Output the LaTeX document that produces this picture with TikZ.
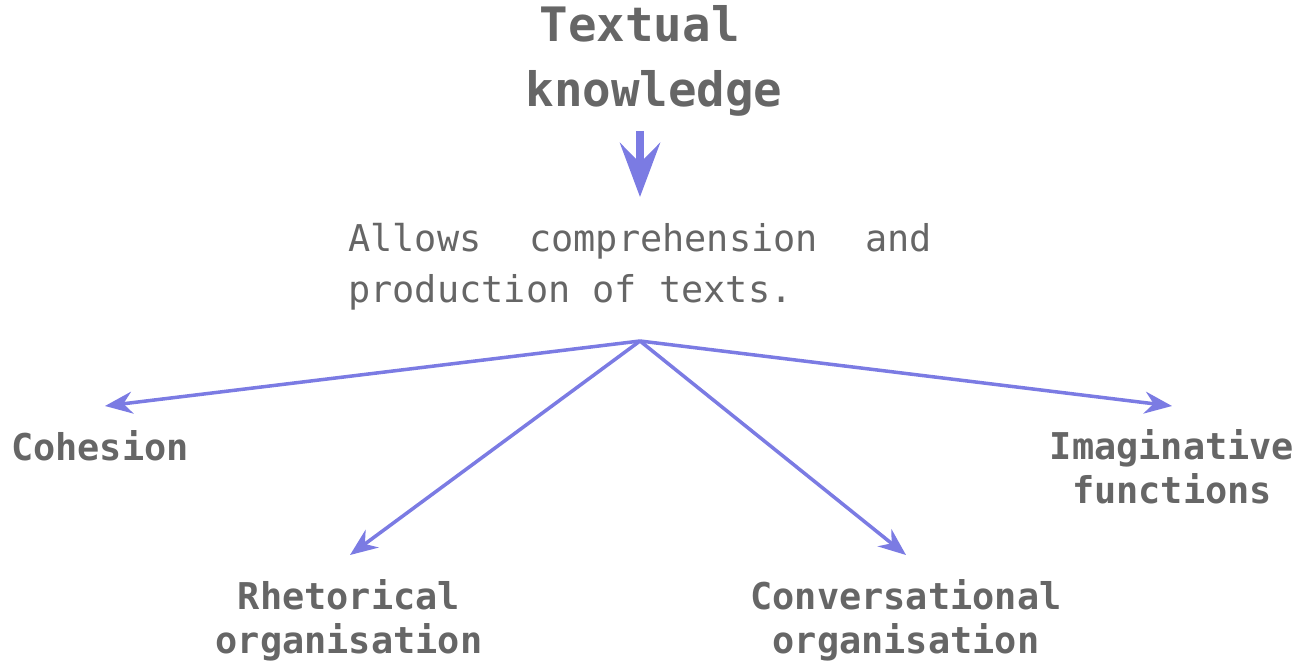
\documentclass[tikz,border=0pt]{standalone}
\usepackage{fontspec}
\setmainfont{DejaVu Sans Mono}
\usepackage{tikz}
\definecolor{gris}{HTML}{666666}
\definecolor{lavande}{HTML}{7B7BE3}
\usetikzlibrary{arrows.meta}
\tikzset{lbl/.style={
    font=\bfseries\fontsize{21}{25}\selectfont,
    text=gris,
    align=center,
    inner sep=0pt,
    anchor=base},
  branche/.style={
    lavande,
    line width=2pt,
    -{Stealth[length=0.55cm,width=0.44cm,inset=0.18cm]}}}
\newcommand{\espmono}{\spaceskip=0.602em\relax}

\begin{document}
\begin{tikzpicture}[x=0.02cm,y=-0.02cm]
\useasboundingbox (0,0) rectangle (1302,662);

\node[lbl,
  font=\bfseries\fontsize{27}{37}\selectfont] (titre) at (654,107) {Textual\hphantom{x}\\knowledge};

\coordinate (haut) at (640,131);
\coordinate (bas) at (640,197);
\draw[lavande,
  line width=4.6pt,
  -{Stealth[length=1.08cm,width=0.8cm,inset=0.4cm]}] (haut) -- (bas);

\node[text=gris,
  inner sep=0pt,
  anchor=base west,
  text width=11.68cm,
  align=left,
  font=\fontsize{21}{28.5}\selectfont] (texte) at (348,252) {\espmono Allows\hfill comprehension\hfill and\\production of texts.};

\coordinate (hub) at (640,341);
\coordinate (cohtip) at (105,406);
\coordinate (rhettip) at (350,555);
\coordinate (convtip) at (906,555);
\coordinate (imagtip) at (1172,406);

\node[lbl] (cohesion) at (100,460) {Cohesion};
\node[lbl] (rhet) at (349,653) {Rhetorical\\organisation};
\node[lbl] (conv) at (906,653) {Conversational\\organisation};
\node[lbl] (imag) at (1172,503) {Imaginative\\functions};

\draw[branche] (hub) -- (cohtip);
\draw[branche] (hub) -- (rhettip);
\draw[branche] (hub) -- (convtip);
\draw[branche] (hub) -- (imagtip);

\end{tikzpicture}
\end{document}
